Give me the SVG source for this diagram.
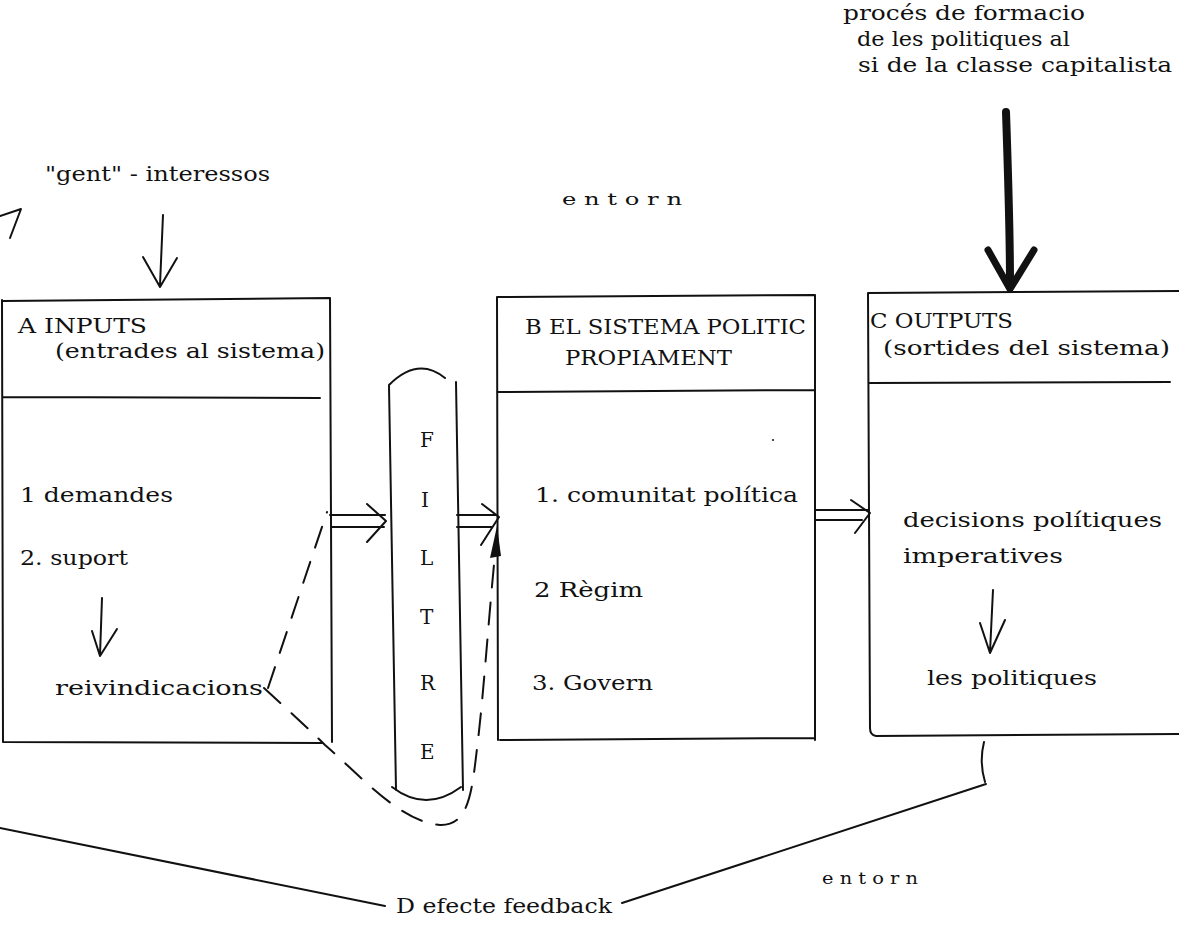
<svg xmlns="http://www.w3.org/2000/svg" width="1179" height="951" viewBox="0 0 1179 951">
<style>
.ln{fill:none;stroke:#111;stroke-width:2;stroke-linecap:round;stroke-linejoin:round}
.ds{fill:none;stroke:#111;stroke-width:2;stroke-dasharray:22 15;stroke-linecap:round}
.tx{font-family:"DejaVu Serif","Liberation Serif",serif;font-size:20px;fill:#111}
.sm{font-family:"DejaVu Serif","Liberation Serif",serif;font-size:16px;fill:#111}
</style>
<rect width="1179" height="951" fill="#fff"/>

<g id="labels-top">
<text class="tx" x="843" y="20" textLength="242" lengthAdjust="spacingAndGlyphs">procés de formacio</text>
<text class="tx" x="857" y="46" textLength="213" lengthAdjust="spacingAndGlyphs">de les politiques al</text>
<text class="tx" x="858" y="72" textLength="314" lengthAdjust="spacingAndGlyphs">si de la classe capitalista</text>
<text class="tx" x="45" y="181" textLength="225" lengthAdjust="spacingAndGlyphs">"gent" - interessos</text>
<text class="sm" x="562" y="205" textLength="120" lengthAdjust="spacingAndGlyphs">e n t o r n</text>
</g>

<g id="nodeA">
<path class="ln" d="M3,301 L330,298 M330,298 L332,742 M3,742 L322,743 M2,300 L3,742 M3,397 L320,398"/>
<text class="tx" x="18" y="333" textLength="129" lengthAdjust="spacingAndGlyphs">A  INPUTS</text>
<text class="tx" x="55" y="358" textLength="270" lengthAdjust="spacingAndGlyphs">(entrades al sistema)</text>
<text class="tx" x="20" y="502" textLength="153" lengthAdjust="spacingAndGlyphs">1  demandes</text>
<text class="tx" x="20" y="565" textLength="108" lengthAdjust="spacingAndGlyphs">2. suport</text>
<text class="tx" x="55" y="695" textLength="208" lengthAdjust="spacingAndGlyphs">reivindicacions</text>
<path class="ln" d="M102,598 L100,655 M92,631 L100,656 L117,629"/>
</g>

<g id="filtre">
<path class="ln" d="M389,386 L396,790 M456,382 L463,790 M389,385 Q418,356 445,378 M392,787 Q426,813 461,787"/>
<text class="tx" x="420" y="447">F</text>
<text class="tx" x="421" y="507">I</text>
<text class="tx" x="420" y="565">L</text>
<text class="tx" x="420" y="624">T</text>
<text class="tx" x="420" y="690">R</text>
<text class="tx" x="420" y="759">E</text>
</g>

<g id="nodeB">
<path class="ln" d="M497,297 L815,295 M815,295 L815,740 M500,740 L815,738 M497,297 L498,740 M497,392 L815,390"/>
<text class="tx" x="525" y="334" textLength="281" lengthAdjust="spacingAndGlyphs">B EL SISTEMA POLITIC</text>
<text class="tx" x="565" y="365" textLength="167" lengthAdjust="spacingAndGlyphs">PROPIAMENT</text>
<text class="tx" x="535" y="502" textLength="263" lengthAdjust="spacingAndGlyphs">1. comunitat política</text>
<text class="tx" x="534" y="597" textLength="109" lengthAdjust="spacingAndGlyphs">2  Règim</text>
<text class="tx" x="532" y="690" textLength="121" lengthAdjust="spacingAndGlyphs">3. Govern</text>
<circle cx="773" cy="440" r="1" fill="#111"/>
</g>

<g id="nodeC">
<path class="ln" d="M868,293 L1179,291 M868,293 L870,728 Q870,735 876,736 L1179,734 M870,383 L1170,382"/>
<text class="tx" x="870" y="328" textLength="143" lengthAdjust="spacingAndGlyphs">C OUTPUTS</text>
<text class="tx" x="883" y="355" textLength="287" lengthAdjust="spacingAndGlyphs">(sortides del sistema)</text>
<text class="tx" x="903" y="527" textLength="259" lengthAdjust="spacingAndGlyphs">decisions polítiques</text>
<text class="tx" x="903" y="563" textLength="160" lengthAdjust="spacingAndGlyphs">imperatives</text>
<path class="ln" d="M993,590 L990,652 M980,623 L990,653 L1005,620"/>
<text class="tx" x="927" y="685" textLength="170" lengthAdjust="spacingAndGlyphs">les politiques</text>
</g>

<g id="labels-bottom">
<text class="sm" x="822" y="884" textLength="96" lengthAdjust="spacingAndGlyphs">e n t o r n</text>
<text class="tx" x="396" y="913" textLength="216" lengthAdjust="spacingAndGlyphs">D efecte feedback</text>
</g>

<g id="connectors">
<path class="ln" d="M1006,112 C1008,170 1010,230 1010,283" style="stroke-width:8"/>
<path class="ln" d="M988,250 L1010,289 L1034,250" style="stroke-width:7"/>
<path class="ln" d="M163,215 L160,285 M143,257 L160,287 L177,258"/>
<path class="ln" d="M0,216 L21,209 L10,238"/>
<path class="ln" d="M330,515 L385,515 M332,527 L384,527 M367,504 L386,521 L367,542"/>
<path class="ln" d="M457,515 L497,515 M457,527 L492,527 M482,504 L499,517 L481,545"/>
<path class="ln" d="M815,510 L868,510 M815,520 L862,520 M851,500 L870,513 L855,533"/>
<path class="ds" d="M268,688 L327,512"/>
<path class="ds" d="M264,688 C290,712 310,730 325,745 C360,775 400,822 440,825 C470,826 472,790 478,740 C484,690 490,600 496,545"/>
<polygon points="497,526 490,558 501,556" fill="#111"/>
<path class="ln" d="M984,742 Q979,762 985,782"/>
<path class="ln" d="M986,784 L622,903"/>
<path class="ln" d="M0,828 L385,906"/>
</g>
</svg>
